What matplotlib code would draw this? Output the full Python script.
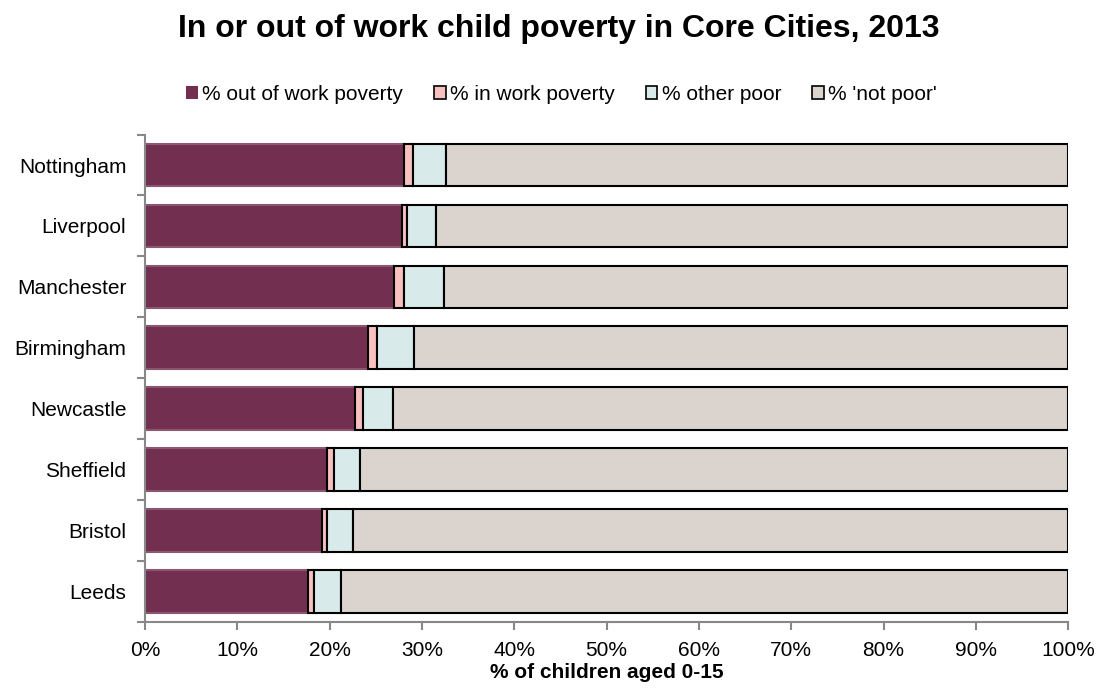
import numpy as np
import matplotlib.pyplot as plt
from matplotlib.patches import Patch

plt.rcParams['font.family'] = ['Liberation Sans', 'DejaVu Sans']

cities = ["Nottingham", "Liverpool", "Manchester", "Birmingham",
          "Newcastle", "Sheffield", "Bristol", "Leeds"]
out_of_work = [28.1, 27.8, 27.0, 24.1, 22.75, 19.75, 19.2, 17.7]
in_work = [0.9, 0.6, 1.0, 1.0, 0.9, 0.75, 0.55, 0.6]
other_poor = [3.6, 3.1, 4.4, 4.0, 3.25, 2.8, 2.75, 2.9]
not_poor = [100 - a - b - c for a, b, c in zip(out_of_work, in_work, other_poor)]

series = [out_of_work, in_work, other_poor, not_poor]
labels = ["% out of work poverty", "% in work poverty", "% other poor", "% 'not poor'"]
colors = ["#722F4F", "#F9C0C0", "#D9EAEA", "#DBD3CE"]
edges = ["#8a5670", "black", "black", "black"]

fig = plt.figure(figsize=(10.99, 6.9), dpi=100)
ax = fig.add_axes([0.132, 0.0986, 0.84, 0.7064])

y = np.arange(len(cities))
left = np.zeros(len(cities))
for vals, col, ec in zip(series, colors, edges):
    vals = np.array(vals)
    ax.barh(y, vals, left=left, height=0.7, color=col, edgecolor=ec, linewidth=1.5)
    left += vals

ax.set_ylim(len(cities) - 0.5, -0.5)
ax.set_xlim(0, 100)
ax.set_yticks(y)
ax.set_yticklabels(cities, fontsize=15)
ax.set_yticks(np.arange(len(cities) + 1) - 0.5, minor=True)
ax.tick_params(axis='y', which='major', length=0, pad=13.5)
ax.tick_params(axis='y', which='minor', length=6, color='#888888', width=1.5)

ax.set_xticks(np.arange(0, 101, 10))
ax.set_xticklabels([f"{v}%" for v in range(0, 101, 10)], fontsize=15)
ax.tick_params(axis='x', length=6, color='#888888', width=1.5, pad=8)
ax.set_xlabel("% of children aged 0-15", fontsize=15, fontweight='bold', labelpad=2)

for s in ['top', 'right']:
    ax.spines[s].set_visible(False)
for s in ['left', 'bottom']:
    ax.spines[s].set_color('#888888')
    ax.spines[s].set_linewidth(1.5)

handles = [Patch(facecolor=c, edgecolor=('none' if i == 0 else 'black'), linewidth=1.2)
           for i, c in enumerate(colors)]
fig.legend(handles, labels, loc='center', bbox_to_anchor=(0.511, 0.863), ncol=4,
           frameon=False, fontsize=15, handlelength=0.55, handleheight=0.55,
           handletextpad=0.2, columnspacing=1.5)

fig.suptitle("In or out of work child poverty in Core Cities, 2013",
             fontsize=23, fontweight='bold', x=0.508, y=0.958, va='center')

fig.savefig("out.png", dpi=100)
